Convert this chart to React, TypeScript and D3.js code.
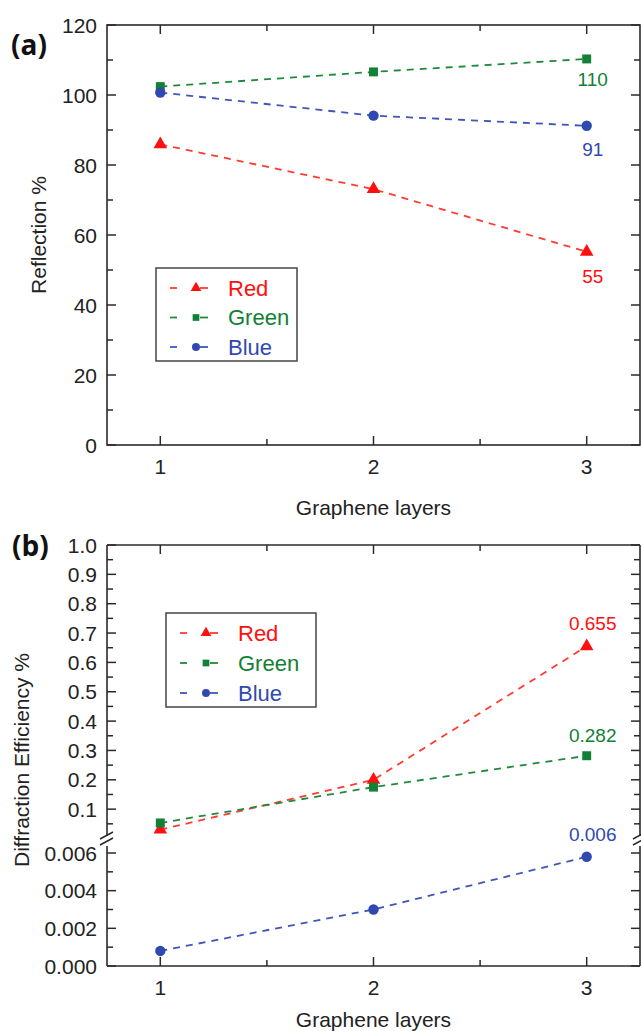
import React from 'react';
import * as d3 from 'd3';

// ---- data ----
const layers = [1, 2, 3];
const xMajor = [1, 2, 3];
const xMinor = [1.5, 2.5];

const seriesNames = ['Red', 'Green', 'Blue'];
const lineColors = ['#ff3b30', '#1f8a3c', '#3f55b8'];
const markColors = ['#ff1010', '#128035', '#3049b0'];

// (a) reflection
const reflRed = [85.9, 73.1, 55.2];
const reflGreen = [102.4, 106.6, 110.3];
const reflBlue = [100.7, 94.1, 91.2];
const reflEndLabels = ['55', '110', '91'];
const reflTicks = [0, 20, 40, 60, 80, 100, 120];
const reflMinor = [10, 30, 50, 70, 90, 110];

// (b) diffraction efficiency (broken axis)
const diffRed = [0.03, 0.2, 0.655];
const diffGreen = [0.053, 0.175, 0.282];
const diffBlue = [0.0008, 0.003, 0.0058];
const diffEndLabels = ['0.655', '0.282', '0.006'];
const upTicks = [0.1, 0.2, 0.3, 0.4, 0.5, 0.6, 0.7, 0.8, 0.9, 1.0];
const upMinor = [0.05, 0.15, 0.25, 0.35, 0.45, 0.55, 0.65, 0.75, 0.85, 0.95];
const loTicks = [0, 0.002, 0.004, 0.006];
const loMinor = [0.001, 0.003, 0.005];

const W = 641;
const H = 1031;
const FONT = '"Liberation Sans", Arial, Helvetica, sans-serif';
const AX = '#2a2a2a';
const MAJ = 9;
const MIN = 6;

const left = 107;
const right = 640;
const x = d3.scaleLinear().domain([0.75, 3.25]).range([left, right]);

const symbols = [d3.symbolTriangle, d3.symbolSquare, d3.symbolCircle];
const symSize = [80, 80, 85];
const legSize = [50, 45, 50];

const line = d3.line<[number, number]>().x(d => d[0]).y(d => d[1]);

function Series({ vals, yf, i, label, labelDy }: any) {
  const pts: [number, number][] = vals.map((v: number, k: number) => [x(layers[k]), yf(v)]);
  const last = pts[pts.length - 1];
  return (
    <g>
      <path d={line(pts) as string} fill="none" stroke={lineColors[i]} strokeWidth={1.8} strokeDasharray="7,6" />
      {pts.map((p, k) => (
        <path key={k} transform={`translate(${p[0]},${p[1]})`} d={d3.symbol(symbols[i], symSize[i])() as string} fill={markColors[i]} />
      ))}
      <text x={last[0] + 6} y={last[1] + labelDy} fill={markColors[i]} fontSize={19} textAnchor="middle" dominantBaseline="central">{label}</text>
    </g>
  );
}

function Legend({ lx, ly, w, h, step }: any) {
  return (
    <g>
      <rect x={lx} y={ly} width={w} height={h} fill="white" stroke="#444" strokeWidth={1.5} />
      {seriesNames.map((s, i) => {
        const cy = ly + 20 + i * step;
        return (
          <g key={s}>
            <line x1={lx + 14} x2={lx + 21} y1={cy} y2={cy} stroke={lineColors[i]} strokeWidth={1.8} />
            <path transform={`translate(${lx + 40},${cy})`} d={d3.symbol(symbols[i], legSize[i])() as string} fill={markColors[i]} />
            <line x1={lx + 44} x2={lx + 52} y1={cy} y2={cy} stroke={lineColors[i]} strokeWidth={1.8} />
            <text x={lx + 72} y={cy} fill={markColors[i]} fontSize={22} dominantBaseline="central">{s}</text>
          </g>
        );
      })}
    </g>
  );
}

function XAxis({ top, bottom }: any) {
  return (
    <g>
      {xMajor.map(t => (
        <g key={t}>
          <line x1={x(t)} x2={x(t)} y1={bottom} y2={bottom - MAJ} stroke={AX} strokeWidth={1.5} />
          <line x1={x(t)} x2={x(t)} y1={top} y2={top + MAJ} stroke={AX} strokeWidth={1.5} />
          <text x={x(t)} y={bottom + 21} textAnchor="middle" dominantBaseline="central" fontSize={21} fill="#222">{t}</text>
        </g>
      ))}
      {xMinor.map(t => (
        <g key={t}>
          <line x1={x(t)} x2={x(t)} y1={bottom} y2={bottom - MIN} stroke={AX} strokeWidth={1.5} />
          <line x1={x(t)} x2={x(t)} y1={top} y2={top + MIN} stroke={AX} strokeWidth={1.5} />
        </g>
      ))}
    </g>
  );
}

function YTicks({ y, major, minor, fmt }: any) {
  return (
    <g>
      {major.map((t: number) => (
        <g key={'M' + t}>
          <line x1={left} x2={left + MAJ} y1={y(t)} y2={y(t)} stroke={AX} strokeWidth={1.5} />
          <line x1={right} x2={right - MAJ} y1={y(t)} y2={y(t)} stroke={AX} strokeWidth={1.5} />
          <text x={97} y={y(t)} textAnchor="end" dominantBaseline="central" fontSize={21} fill="#222">{fmt(t)}</text>
        </g>
      ))}
      {minor.map((t: number) => (
        <g key={'m' + t}>
          <line x1={left} x2={left + MIN} y1={y(t)} y2={y(t)} stroke={AX} strokeWidth={1.5} />
          <line x1={right} x2={right - MIN} y1={y(t)} y2={y(t)} stroke={AX} strokeWidth={1.5} />
        </g>
      ))}
    </g>
  );
}

function BreakMark({ cx, cy }: any) {
  return (
    <g>
      <line x1={cx - 7} x2={cx + 6} y1={cy + 1} y2={cy - 6} stroke={AX} strokeWidth={1.5} />
      <line x1={cx - 7} x2={cx + 6} y1={cy + 7} y2={cy} stroke={AX} strokeWidth={1.5} />
    </g>
  );
}

export default function App() {
  // ---- panel (a) ----
  const aTop = 25;
  const aBot = 445;
  const ya = d3.scaleLinear().domain([0, 120]).range([aBot, aTop]);
  const reflSeries = [reflRed, reflGreen, reflBlue];
  const reflDy = [25, 21, 24];

  // ---- panel (b) ----
  const bTop = 545;
  const bBot = 966;
  const brkTop = 836;
  const brkBot = 846;
  const yUp = d3.scaleLinear().domain([0, 1]).range([838.5, bTop]);
  const yLo = d3.scaleLinear().domain([0, 0.006]).range([bBot, 853]);
  const diffSeries = [diffRed, diffGreen, diffBlue];
  const diffScale = [yUp, yUp, yLo];
  const diffDy = [-23, -20, -22];

  return (
    <svg width={W} height={H} style={{ position: 'absolute', left: 0, top: 0, background: 'white' }} fontFamily={FONT}>
      {/* ===== (a) ===== */}
      <text x={11} y={55} fontSize={28} fontWeight="bold" fontFamily='"Open Sans", Calibri, sans-serif' fill="#111">(a)</text>
      <rect x={left} y={aTop} width={right - left} height={aBot - aTop} fill="none" stroke={AX} strokeWidth={1.6} />
      <XAxis top={aTop} bottom={aBot} />
      <YTicks y={ya} major={reflTicks} minor={reflMinor} fmt={(t: number) => String(t)} />
      <text transform={`translate(38,${(aTop + aBot) / 2}) rotate(-90)`} textAnchor="middle" dominantBaseline="central" fontSize={21} fill="#222">Reflection %</text>
      <text x={(left + right) / 2} y={507} textAnchor="middle" dominantBaseline="central" fontSize={21} fill="#222">Graphene layers</text>
      {reflSeries.map((vals, i) => (
        <Series key={i} vals={vals} yf={ya} i={i} label={reflEndLabels[i]} labelDy={reflDy[i]} />
      ))}
      <Legend lx={156} ly={268} w={141} h={93} step={29.5} />

      {/* ===== (b) ===== */}
      <text x={12} y={556} fontSize={28} fontWeight="bold" fontFamily='"Open Sans", Calibri, sans-serif' fill="#111">(b)</text>
      <line x1={left} x2={right} y1={bTop} y2={bTop} stroke={AX} strokeWidth={1.6} />
      <line x1={left} x2={right} y1={bBot} y2={bBot} stroke={AX} strokeWidth={1.6} />
      <line x1={left} x2={left} y1={bTop} y2={brkTop} stroke={AX} strokeWidth={1.6} />
      <line x1={left} x2={left} y1={brkBot} y2={bBot} stroke={AX} strokeWidth={1.6} />
      <line x1={right} x2={right} y1={bTop} y2={brkTop} stroke={AX} strokeWidth={1.6} />
      <line x1={right} x2={right} y1={brkBot} y2={bBot} stroke={AX} strokeWidth={1.6} />
      <BreakMark cx={left} cy={brkTop + 2} />
      <BreakMark cx={right} cy={brkTop + 2} />
      <XAxis top={bTop} bottom={bBot} />
      <YTicks y={yUp} major={upTicks} minor={upMinor} fmt={(t: number) => t.toFixed(1)} />
      <YTicks y={yLo} major={loTicks} minor={loMinor} fmt={(t: number) => t.toFixed(3)} />
      <text transform={`translate(21,760) rotate(-90)`} textAnchor="middle" dominantBaseline="central" fontSize={21} fill="#222">Diffraction Efficiency %</text>
      <text x={(left + right) / 2} y={1019} textAnchor="middle" dominantBaseline="central" fontSize={21} fill="#222">Graphene layers</text>
      {diffSeries.map((vals, i) => (
        <Series key={i} vals={vals} yf={diffScale[i]} i={i} label={diffEndLabels[i]} labelDy={diffDy[i]} />
      ))}
      <Legend lx={166} ly={613} w={150} h={94} step={30} />
    </svg>
  );
}
